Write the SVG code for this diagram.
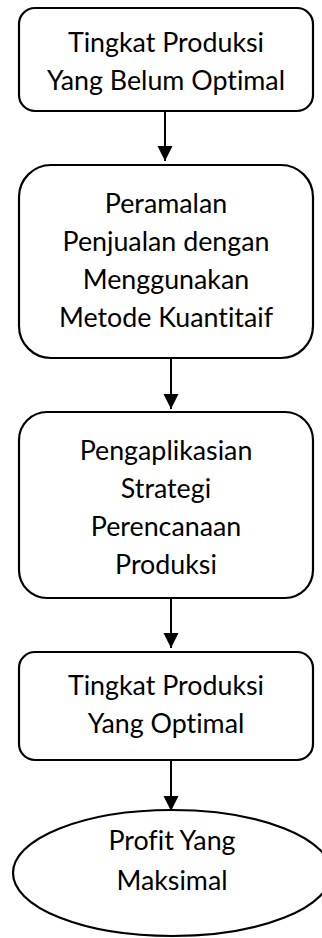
<svg xmlns="http://www.w3.org/2000/svg" width="322" height="938" viewBox="0 0 322 938">
<defs>
<style>
.box{fill:#fff;stroke:#000;stroke-width:2.2}
.t{font-family:Lato,"Open Sans",sans-serif;font-size:26.8px;fill:#000;text-anchor:middle;font-variant-ligatures:none;font-feature-settings:"liga" 0}
.c{stroke:#000;stroke-width:2;fill:none}
</style>
<marker id="ah" markerUnits="userSpaceOnUse" markerWidth="16" markerHeight="16" refX="15" refY="8" orient="auto" viewBox="0 0 16 16">
<path d="M0,0.5 L15,8 L0,15.5 Z" fill="#000"/>
</marker>
</defs>
<rect width="322" height="938" fill="#fff"/>
<g id="connectors">
<line class="c" x1="165" y1="112" x2="165" y2="161" marker-end="url(#ah)"/>
<line class="c" x1="171" y1="359" x2="171" y2="409" marker-end="url(#ah)"/>
<line class="c" x1="171" y1="599" x2="171" y2="648" marker-end="url(#ah)"/>
<line class="c" x1="171" y1="761" x2="171" y2="811" marker-end="url(#ah)"/>
</g>
<g id="n1">
<rect class="box" x="19" y="8" width="294" height="103" rx="16"/>
<text class="t" x="166" y="52">Tingkat Produksi</text>
<text class="t" x="166" y="90">Yang Belum Optimal</text>
</g>
<g id="n2">
<rect class="box" x="19" y="165" width="294" height="193" rx="32"/>
<text class="t" x="166" y="213">Peramalan</text>
<text class="t" x="166" y="251">Penjualan dengan</text>
<text class="t" x="166" y="289">Menggunakan</text>
<text class="t" x="166" y="327">Metode Kuantitaif</text>
</g>
<g id="n3">
<rect class="box" x="19" y="412" width="294" height="186" rx="28"/>
<text class="t" x="166" y="460">Pengaplikasian</text>
<text class="t" x="166" y="498">Strategi</text>
<text class="t" x="166" y="536">Perencanaan</text>
<text class="t" x="166" y="574">Produksi</text>
</g>
<g id="n4">
<rect class="box" x="19" y="652" width="294" height="108" rx="16"/>
<text class="t" x="166" y="695">Tingkat Produksi</text>
<text class="t" x="166" y="733">Yang Optimal</text>
</g>
<g id="n5">
<ellipse class="box" cx="172" cy="873" rx="159" ry="63"/>
<text class="t" x="172" y="850">Profit Yang</text>
<text class="t" x="172" y="890">Maksimal</text>
</g>
</svg>
